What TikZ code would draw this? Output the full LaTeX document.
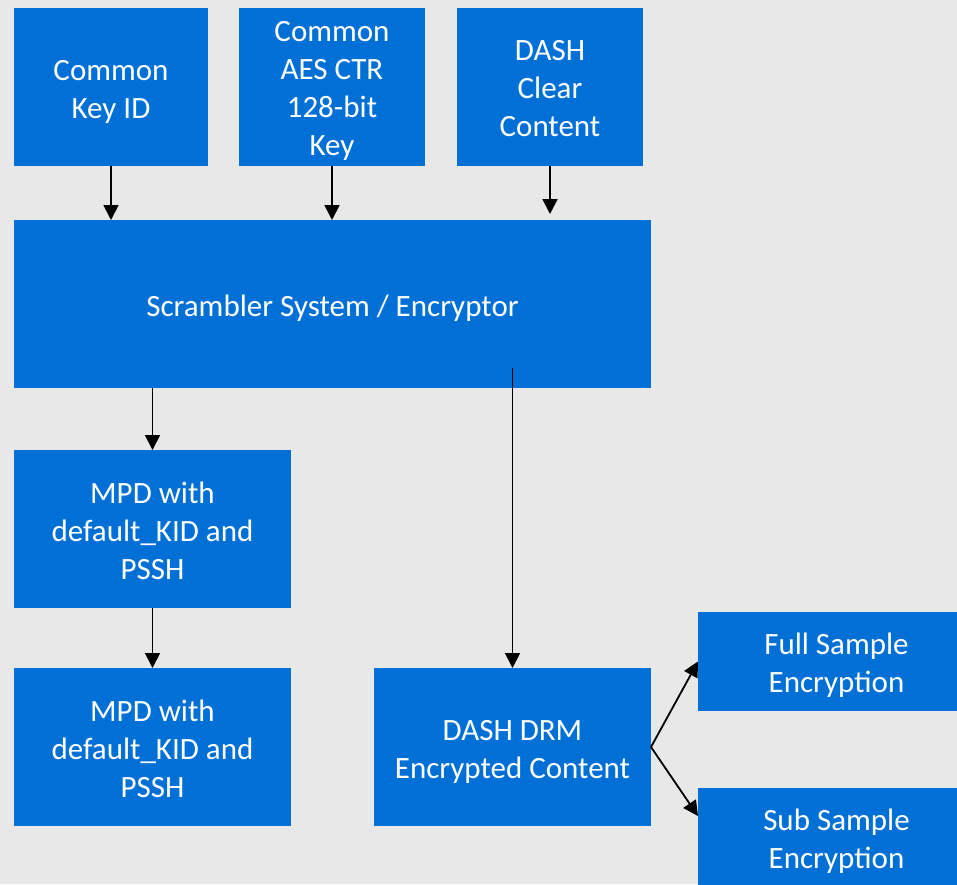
\documentclass[tikz,border=0pt]{standalone}
\usepackage{fontspec}
\setmainfont{Carlito}
\usepackage{xcolor}
\usetikzlibrary{arrows.meta,positioning}

\definecolor{bgcol}{RGB}{232,232,232}
\definecolor{boxblue}{RGB}{0,111,214}

\tikzset{
  blkbox/.style={fill=boxblue, inner sep=0pt, outer sep=0pt, anchor=north west},
  btext/.style={text=white, inner sep=0pt, align=center, yshift=-4pt,
    font=\fontsize{31}{38}\selectfont},
  arr/.style={-{Triangle[length=15pt,width=15pt]}, line width=1.8pt, black}
}

\begin{document}
\begin{tikzpicture}[x=1pt,y=-1pt]
                \fill[bgcol] (0,0) rectangle (957,884);
                \useasboundingbox (0,0) rectangle (957,884);

                % inputs
                \node[blkbox, minimum width=194pt, minimum height=158pt,
                  label={[btext,yshift=-1pt]center:{Common\\Key ID}}] (keyid) at (14,8) {};
                \node[blkbox, minimum width=186pt, minimum height=158pt,
                  label={[btext]center:{Common\\AES CTR\\128-bit\\Key}}] (aes) at (239,8) {};
                \node[blkbox, minimum width=186pt, minimum height=158pt,
                  label={[btext,yshift=2pt]center:{DASH\\Clear\\Content}}] (clear) at (457,8) {};

                % scrambler
                \node[blkbox, minimum width=637pt, minimum height=168pt,
                  label={[btext]center:{Scrambler System / Encryptor}}] (scr) at (14,220) {};

                % outputs
                \node[blkbox, minimum width=277pt, minimum height=158pt,
                  label={[btext,yshift=2pt]center:{MPD with\\default\_KID and\\PSSH}}] (mpda) at (14,450) {};
                \node[blkbox, minimum width=277pt, minimum height=158pt,
                  label={[btext,yshift=2pt]center:{MPD with\\default\_KID and\\PSSH}}] (mpdb) at (14,668) {};
                \node[blkbox, minimum width=277pt, minimum height=158pt,
                  label={[btext,yshift=-1pt]center:{DASH DRM\\Encrypted Content}}] (drm) at (374,668) {};
                \node[blkbox, minimum width=277pt, minimum height=99pt,
                  label={[btext]center:{Full Sample\\Encryption}}] (full) at (698,612) {};
                \node[blkbox, minimum width=277pt, minimum height=99pt,
                  label={[btext]center:{Sub Sample\\Encryption}}] (sub) at (698,788) {};

                \draw[arr] (keyid.south) -- (keyid.south |- scr.north);
                \draw[arr] (aes.south) -- (aes.south |- scr.north);
                \draw[arr] (clear.south) -- ([yshift=6pt]clear.south |- scr.north);

                \draw[arr] (scr.south -| mpda.north) -- (mpda.north);
                \draw[arr] (mpda.south) -- (mpdb.north);
                \draw[arr] ([yshift=20pt]scr.south -| drm.north) -- (drm.north);

                \draw[arr] (drm.east) -- (full.west);
                \draw[arr] (drm.east) -- ([yshift=-28pt]sub.north west);
\end{tikzpicture}
\end{document}
